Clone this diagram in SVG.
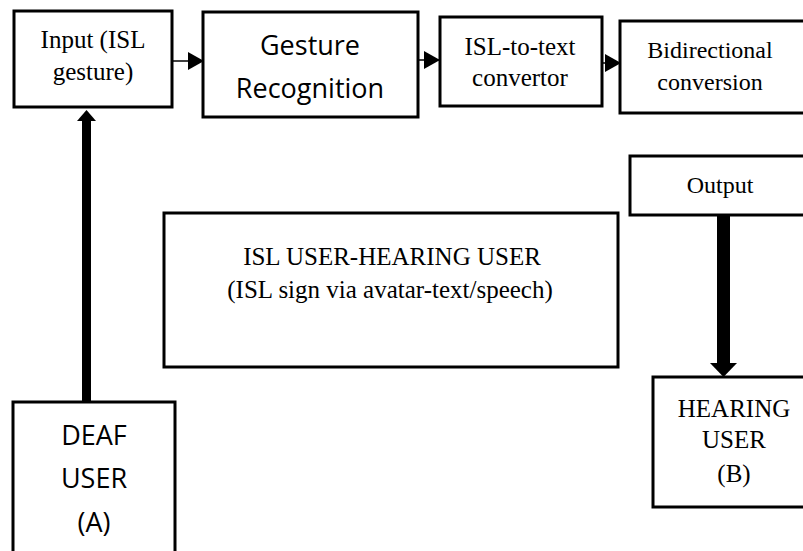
<svg xmlns="http://www.w3.org/2000/svg" width="803" height="551" viewBox="0 0 803 551">
<style>
.box{fill:#fff;stroke:#000;stroke-width:3}
.serif{font-family:"Liberation Serif","Times New Roman",serif;fill:#000;text-anchor:middle}
.sans{font-family:"Open Sans","Noto Sans","Liberation Sans",sans-serif;fill:#000;text-anchor:middle}
.thin{stroke:#000;stroke-width:1.5;fill:none}
</style>
<defs>
<marker id="ah" markerWidth="16" markerHeight="18" refX="15" refY="9" orient="auto" markerUnits="userSpaceOnUse">
<path d="M0,0 L16,9 L0,18 Z" fill="#000"/>
</marker>
</defs>
<rect width="803" height="551" fill="#fff"/>
<g id="connectors">
<line class="thin" x1="172" y1="61" x2="203" y2="61" marker-end="url(#ah)"/>
<line class="thin" x1="418" y1="60" x2="439" y2="60" marker-end="url(#ah)"/>
<line class="thin" x1="602" y1="63" x2="620" y2="63" marker-end="url(#ah)"/>
<rect x="82" y="120" width="9" height="282" fill="#000"/>
<path d="M77,121 L86.5,110 L96,121 Z" fill="#000"/>
<rect x="717" y="215" width="13" height="150" fill="#000"/>
<path d="M710,363 L737,363 L723.5,377 Z" fill="#000"/>
</g>
<g id="input">
<rect class="box" x="14" y="11" width="158" height="96"/>
<text class="serif" x="93" y="48" font-size="25">Input (ISL</text>
<text class="serif" x="93" y="80" font-size="25">gesture)</text>
</g>
<g id="gesture">
<rect class="box" x="203" y="12" width="215" height="105"/>
<text class="sans" x="310" y="55" font-size="27">Gesture</text>
<text class="sans" x="310" y="98" font-size="27">Recognition</text>
</g>
<g id="isl2text">
<rect class="box" x="440" y="17" width="162" height="89"/>
<text class="serif" x="520" y="55" font-size="25">ISL-to-text</text>
<text class="serif" x="520" y="86" font-size="25">convertor</text>
</g>
<g id="bidirectional">
<rect class="box" x="620" y="21" width="190" height="92"/>
<text class="serif" x="710" y="58" font-size="24">Bidirectional</text>
<text class="serif" x="710" y="90" font-size="24">conversion</text>
</g>
<g id="output">
<rect class="box" x="630" y="156" width="180" height="59"/>
<text class="serif" x="720" y="193" font-size="24">Output</text>
</g>
<g id="isluser">
<rect class="box" x="164" y="213" width="454" height="154"/>
<text class="serif" x="392" y="265" font-size="25">ISL USER-HEARING USER</text>
<text class="serif" x="390" y="298" font-size="25">(ISL sign via avatar-text/speech)</text>
</g>
<g id="hearing">
<rect class="box" x="653" y="377" width="160" height="130"/>
<text class="serif" x="734" y="417" font-size="25">HEARING</text>
<text class="serif" x="734" y="448" font-size="25">USER</text>
<text class="serif" x="734" y="482" font-size="25">(B)</text>
</g>
<g id="deaf">
<rect class="box" x="13" y="402" width="162" height="160"/>
<text class="sans" x="94" y="445" font-size="27">DEAF</text>
<text class="sans" x="94" y="488" font-size="27">USER</text>
<text class="sans" x="94" y="532" font-size="27">(A)</text>
</g>
</svg>
